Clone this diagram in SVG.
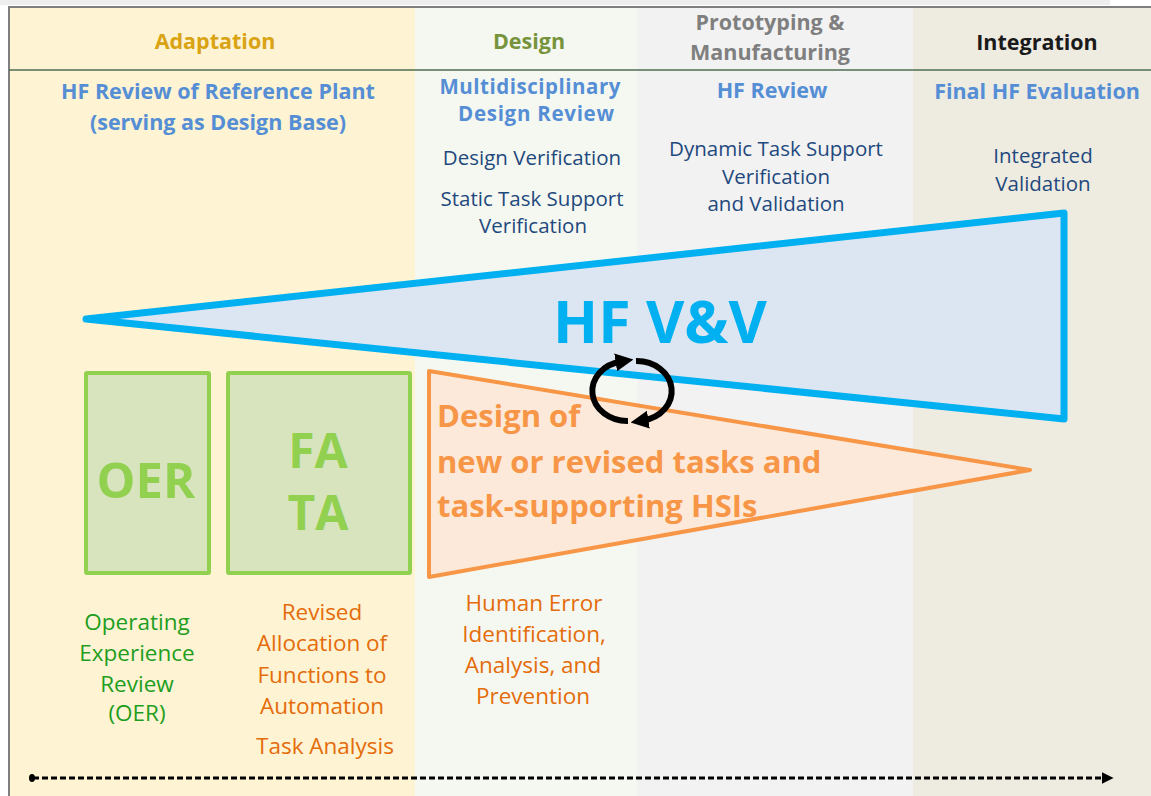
<svg xmlns="http://www.w3.org/2000/svg" width="1151" height="796" viewBox="0 0 1151 796">
<defs>
<style>
text{font-family:"Open Sans","Liberation Sans",sans-serif;text-anchor:middle}
.hd{font-weight:bold;font-size:21.5px}
.sub{font-weight:bold;font-size:21.5px;fill:#558ED5}
.sub2{font-weight:bold;font-size:20.5px;fill:#558ED5}
.dk{font-size:20.5px;fill:#1F497D}
.gr{font-size:22.5px;fill:#1E9E1E}
.or{font-size:22.5px;fill:#E46C0A}
.big{font-weight:bold;fill:#92D050}
.des{font-weight:bold;font-size:31px;fill:#F79646;text-anchor:start}
</style>
<marker id="ah" viewBox="0 0 10 10" refX="3" refY="5" markerWidth="3" markerHeight="3" orient="auto" markerUnits="strokeWidth">
<path d="M0,0 L10,5 L0,10 z" fill="#000"/>
</marker>
<marker id="dah" viewBox="0 0 10 10" refX="2" refY="5" markerWidth="4" markerHeight="4" orient="auto" markerUnits="strokeWidth">
<path d="M0,0 L10,5 L0,10 z" fill="#000"/>
</marker>
</defs>
<rect x="0" y="0" width="1151" height="796" fill="#fff"/>
<g id="columns">
<rect x="0" y="0" width="1110" height="5" fill="#EEEEEE"/>
<rect x="10" y="7" width="405" height="789" fill="#FEF3D2"/>
<rect x="415" y="7" width="222" height="789" fill="#F5F8F1"/>
<rect x="637" y="7" width="276" height="789" fill="#F2F2F2"/>
<rect x="913" y="7" width="238" height="789" fill="#EEEBE1"/>
<line x1="8" y1="7" x2="1151" y2="7" stroke="#7F7F7F" stroke-width="2"/>
<line x1="9" y1="6" x2="9" y2="796" stroke="#7F7F7F" stroke-width="2"/>
<line x1="9" y1="70" x2="1151" y2="70" stroke="#4E6E50" stroke-width="1.5"/>
</g>
<g id="headers">
<text class="hd" x="215" y="49" fill="#D9A313">Adaptation</text>
<text class="hd" x="529" y="49" fill="#77933C">Design</text>
<text class="hd" x="770" y="30" fill="#7F7F7F">Prototyping &amp;</text>
<text class="hd" x="770" y="60" fill="#7F7F7F">Manufacturing</text>
<text class="hd" x="1037" y="50" fill="#1A1A1A">Integration</text>
</g>
<g id="subheaders">
<text class="sub" x="218" y="99">HF Review of Reference Plant</text>
<text class="sub" x="218" y="130">(serving as Design Base)</text>
<text class="sub2" x="530" y="94" textLength="181">Multidisciplinary</text>
<text class="sub2" x="536" y="121" textLength="156">Design Review</text>
<text class="sub" x="772" y="98">HF Review</text>
<text class="sub" x="1037" y="99">Final HF Evaluation</text>
</g>
<g id="reviews">
<text class="dk" x="532" y="165">Design Verification</text>
<text class="dk" x="532" y="206">Static Task Support</text>
<text class="dk" x="533" y="233">Verification</text>
<text class="dk" x="776" y="156">Dynamic Task Support</text>
<text class="dk" x="776" y="184">Verification</text>
<text class="dk" x="776" y="211">and Validation</text>
<text class="dk" x="1043" y="163">Integrated</text>
<text class="dk" x="1043" y="191">Validation</text>
</g>
<g id="hfvv">
<path d="M86,319 L1064,213 L1064,419 Z" fill="#DCE6F2" stroke="#00B0F0" stroke-width="7" stroke-linejoin="round"/>
<text x="660" y="343" font-weight="bold" font-size="59" fill="#00B0F0">HF V&amp;V</text>
</g>
<g id="design-tri">
<path d="M429,371 L1030,470 L429,577 Z" fill="#FDE9D9" stroke="#F79646" stroke-width="4" stroke-linejoin="round"/>
<text class="des" x="437" y="427">Design of</text>
<text class="des" x="437" y="473">new or revised tasks and</text>
<text class="des" x="437" y="517">task-supporting HSIs</text>
</g>
<g id="cycle">
<path d="M628,421 A35,30 0 0 1 621,361.5" fill="none" stroke="#000" stroke-width="6" marker-end="url(#ah)"/>
<path d="M636,361 A35,30 0 0 1 643,420.5" fill="none" stroke="#000" stroke-width="6" marker-end="url(#ah)"/>
</g>
<g id="oer">
<rect x="86" y="373" width="123" height="200" fill="#D7E4BD" stroke="#92D050" stroke-width="4" rx="1"/>
<text class="big" x="146" y="498" font-size="49">OER</text>
</g>
<g id="fata">
<rect x="228" y="373" width="182" height="200" fill="#D7E4BD" stroke="#92D050" stroke-width="4" rx="1"/>
<text class="big" x="318" y="468" font-size="48">FA</text>
<text class="big" x="318" y="530" font-size="48">TA</text>
</g>
<g id="oer-label">
<text class="gr" x="137" y="630">Operating</text>
<text class="gr" x="137" y="661">Experience</text>
<text class="gr" x="137" y="692">Review</text>
<text class="gr" x="137" y="721">(OER)</text>
</g>
<g id="fa-label">
<text class="or" x="322" y="620">Revised</text>
<text class="or" x="322" y="651">Allocation of</text>
<text class="or" x="322" y="683">Functions to</text>
<text class="or" x="322" y="714">Automation</text>
<text class="or" x="325" y="754">Task Analysis</text>
</g>
<g id="he-label">
<text class="or" x="534" y="611">Human Error</text>
<text class="or" x="534" y="642">Identification,</text>
<text class="or" x="533" y="673">Analysis, and</text>
<text class="or" x="533" y="704">Prevention</text>
</g>
<g id="connectors">
<line x1="33" y1="778" x2="1104" y2="778" stroke="#000" stroke-width="3" stroke-dasharray="6,3" marker-end="url(#dah)"/>
<ellipse cx="32" cy="778" rx="3" ry="4" fill="#000"/>
</g>
</svg>
